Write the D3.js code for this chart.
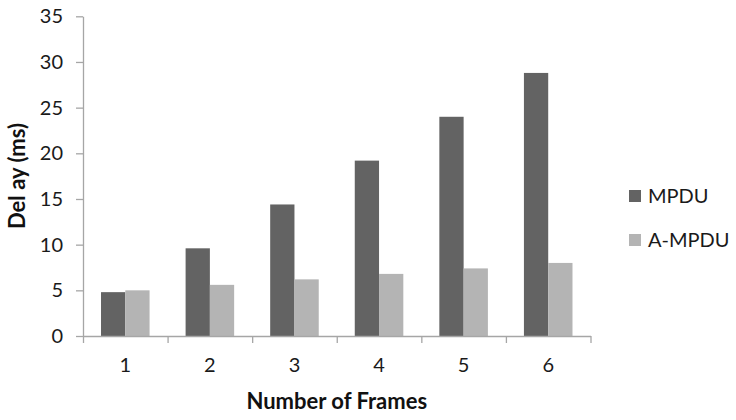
<!DOCTYPE html>
<html>
<head>
<meta charset="utf-8">
<script src="https://cdn.jsdelivr.net/npm/d3@7"></script>
<style>
  body { margin: 0; background: #fff; }
  svg { display: block; font-family: Lato, "Open Sans", sans-serif; }
</style>
</head>
<body>
<div id="chart"></div>
<script>
// chart data
var frames = ["1", "2", "3", "4", "5", "6"];
var seriesNames = ["MPDU", "A-MPDU"];
var mpduDelay = [4.8, 9.6, 14.4, 19.2, 24.0, 28.8];
var ampduDelay = [5.0, 5.6, 6.2, 6.8, 7.4, 8.0];
var yTicks = [0, 5, 10, 15, 20, 25, 30, 35];

var seriesColors = ["#636363", "#b4b4b4"];
var axisColor = "#a6a6a6";

////////////////////////////////////////////////////////////////////////
//
// Draw the grouped bar chart
//
////////////////////////////////////////////////////////////////////////
function drawChart()
  {
  var width = 736, height = 420;
  var left = 83, right = 590.5, top = 16.3, bottom = 336;

  var svg = d3.select("#chart").append("svg")
    .attr("width", width)
    .attr("height", height);

  var x = d3.scaleBand().domain(frames).range([left, right])
    .paddingInner(0.426).paddingOuter(0.213);
  var x1 = d3.scaleBand().domain(seriesNames).range([0, x.bandwidth()]);
  var y = d3.scaleLinear().domain([0, 35]).range([bottom, top]);
  var color = d3.scaleOrdinal().domain(seriesNames).range(seriesColors);

  var values = [mpduDelay, ampduDelay];
  var rows = frames.map(function(f, i)
    {
    return seriesNames.map(function(s, j) { return {frame: f, series: s, value: values[j][i]}; });
    });

  // bars
  svg.append("g").selectAll("g")
    .data(rows)
    .enter().append("g")
    .selectAll("rect")
    .data(function(d) { return d; })
    .enter().append("rect")
    .attr("x", function(d) { return x(d.frame) + x1(d.series); })
    .attr("width", x1.bandwidth())
    .attr("y", function(d) { return y(d.value); })
    .attr("height", function(d) { return bottom - y(d.value); })
    .attr("fill", function(d) { return color(d.series); });

  // y axis
  var yAxis = svg.append("g")
    .attr("transform", "translate(" + left + ",0)")
    .call(d3.axisLeft(y).tickValues(yTicks).tickSize(7).tickSizeOuter(0).tickPadding(13));
  yAxis.selectAll("text").attr("font-size", 20).attr("fill", "#1a1a1a").attr("font-family", "Lato");

  // x axis: tick marks sit on the category boundaries
  var xEdge = d3.scaleLinear().domain([0, frames.length]).range([left, right]);
  svg.append("g")
    .attr("transform", "translate(0," + bottom + ")")
    .call(d3.axisBottom(xEdge).ticks(frames.length).tickFormat("").tickSize(7).tickSizeOuter(0));

  var xLabelAxis = svg.append("g")
    .attr("transform", "translate(0," + bottom + ")")
    .call(d3.axisBottom(x).tickSize(0).tickPadding(22));
  xLabelAxis.select(".domain").remove();
  xLabelAxis.selectAll("text").attr("font-size", 20).attr("fill", "#1a1a1a").attr("font-family", "Lato");

  svg.selectAll(".domain, .tick line").attr("stroke", axisColor).attr("stroke-width", 1.3);

  // axis titles
  svg.append("text")
    .attr("x", (left + right) / 2)
    .attr("y", 408.5)
    .attr("text-anchor", "middle")
    .attr("font-size", 22)
    .attr("font-weight", "bold")
    .attr("fill", "#111")
    .text("Number of Frames");

  svg.append("text")
    .attr("transform", "translate(25,176) rotate(-90)")
    .attr("text-anchor", "middle")
    .attr("font-size", 22)
    .attr("font-weight", "bold")
    .attr("fill", "#111")
    .text("Del ay (ms)");

  // legend
  var legend = svg.append("g").selectAll("g")
    .data(seriesNames)
    .enter().append("g")
    .attr("transform", function(d, i) { return "translate(629," + (190 + i * 44) + ")"; });

  legend.append("rect")
    .attr("width", 12)
    .attr("height", 12)
    .attr("fill", function(d) { return color(d); });

  legend.append("text")
    .attr("x", 19)
    .attr("y", 12.5)
    .attr("font-size", 20)
    .attr("fill", "#1a1a1a")
    .text(function(d) { return d; });

  return;
  }

drawChart();
</script>
</body>
</html>
